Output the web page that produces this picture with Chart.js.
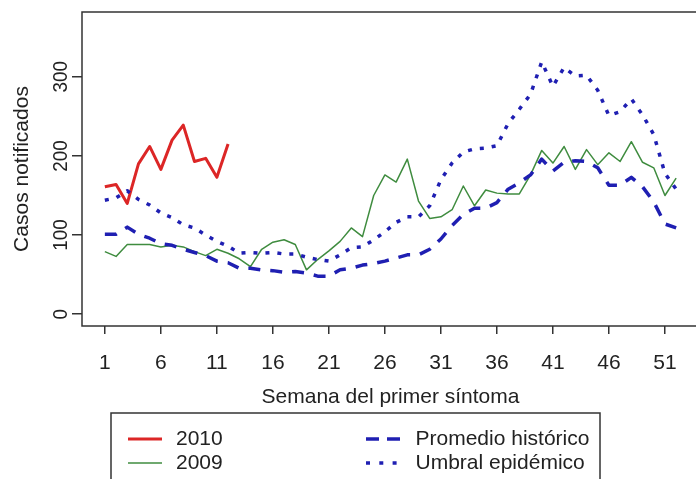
<!DOCTYPE html>
<html>
<head>
<meta charset="utf-8">
<script src="https://cdn.jsdelivr.net/npm/chart.js@4/dist/chart.umd.min.js"></script>
<style>
html,body{margin:0;padding:0;background:#fff;overflow:hidden;}
#wrap{width:710px;height:479px;}
</style>
</head>
<body>
<div id="wrap"><canvas id="c" width="710" height="479"></canvas></div>
<script>
// ---- data ----
const weeks = [1,2,3,4,5,6,7,8,9,10,11,12,13,14,15,16,17,18,19,20,21,22,23,24,25,26,
               27,28,29,30,31,32,33,34,35,36,37,38,39,40,41,42,43,44,45,46,47,48,49,50,51,52];
const weeks2010 = [1,2,3,4,5,6,7,8,9,10,11,12];
const cases2010 = [161,164,140,190,212,183,220,239,193,197,173,215];
const cases2009 = [79,73,88,88,88,85,87,85,79,74,82,77,70,60,82,91,94,88,56,69,
                   80,92,109,98,150,176,167,196,143,121,123,132,162,137,157,153,152,152,176,207,
                   191,212,183,208,189,204,193,218,192,185,150,172];
const promedioHistorico = [101,101,110,101,96,89,87,82,78,74,67,65,58,58,56,55,53,54,52,48,
                           48,56,58,62,64,67,71,75,75,82,95,112,126,134,134,141,158,166,176,196,
                           181,192,194,193,185,163,163,173,161,142,114,109];
const umbralEpidemico = [144,147,156,145,138,128,122,113,109,100,92,86,77,78,77,78,76,76,72,69,
                         67,75,84,85,94,104,116,123,123,137,170,191,205,209,210,213,241,259,278,319,
                         288,312,301,302,283,251,256,272,252,227,178,158];
const xTickValues = [1,6,11,16,21,26,31,36,41,46,51];
const yTickValues = [0,100,200,300];
const seriesLabels = ['2010','2009','Promedio histórico','Umbral epidémico'];
const xTitle = 'Semana del primer síntoma';
const yTitle = 'Casos notificados';

// ---- style ----
const FONT_FAMILY = "'Liberation Sans', Arial, Helvetica, sans-serif";
const TXT = '#222';
const AX = '#333';
const RED = '#dc2626';
const GREEN = '#3f8c3f';
const BLUE = '#1f1fb2';

function pts(xs, ys){ return ys.map((v,i)=>({x:xs[i], y:v})); }

const framePlugin = {
  id: 'frameAndLegend',
  afterDraw(chart){
    const {ctx, chartArea:a, scales:{y}} = chart;
    ctx.save();
    // plot box
    ctx.strokeStyle = AX; ctx.lineWidth = 1.5; ctx.setLineDash([]);
    ctx.strokeRect(a.left, a.top, a.right - a.left, a.bottom - a.top);
    // y tick labels, rotated like R (las=0)
    ctx.font = '21px ' + FONT_FAMILY;
    ctx.fillStyle = TXT; ctx.textAlign = 'center'; ctx.textBaseline = 'middle';
    y.ticks.forEach(t => {
      const py = y.getPixelForValue(t.value);
      ctx.save(); ctx.translate(61, py); ctx.rotate(-Math.PI/2); ctx.scale(0.9, 1);
      ctx.fillText(t.label, 0, 0); ctx.restore();
    });
    // legend box
    ctx.lineWidth = 1.5; ctx.strokeStyle = AX;
    ctx.strokeRect(111, 413, 489, 120);
    const ds = chart.data.datasets;
    const items = [
      {d: ds.find(d=>d.label===seriesLabels[0]), x1:128, x2:162, tx:176, y:439, dash:[]},
      {d: ds.find(d=>d.label===seriesLabels[1]), x1:128, x2:162, tx:176, y:463, dash:[]},
      {d: ds.find(d=>d.label===seriesLabels[2]), x1:366, x2:401, tx:415.5, y:439, dash:[13,8]},
      {d: ds.find(d=>d.label===seriesLabels[3]), x1:366, x2:401, tx:415.5, y:463, dash:[4,9.3]}
    ];
    ctx.font = '21px ' + FONT_FAMILY;
    items.forEach(it => {
      ctx.beginPath();
      ctx.setLineDash(it.dash);
      ctx.strokeStyle = it.d.borderColor; ctx.lineWidth = it.d.borderWidth;
      ctx.lineCap = 'butt';
      ctx.moveTo(it.x1, it.y); ctx.lineTo(it.x2, it.y); ctx.stroke();
      ctx.setLineDash([]);
      ctx.fillStyle = TXT; ctx.textAlign = 'left'; ctx.textBaseline = 'middle';
      ctx.fillText(it.d.label, it.tx, it.y);
    });
    ctx.restore();
  }
};

new Chart(document.getElementById('c'), {
  type: 'line',
  data: {
    datasets: [
      {label: seriesLabels[0], data: pts(weeks2010, cases2010), borderColor: RED, borderWidth: 3, order: 3},
      {label: seriesLabels[1], data: pts(weeks, cases2009), borderColor: GREEN, borderWidth: 1.5, order: 4},
      {label: seriesLabels[2], data: pts(weeks, promedioHistorico), borderColor: BLUE, borderWidth: 3.5, borderDash: [12,10], order: 2},
      {label: seriesLabels[3], data: pts(weeks, umbralEpidemico), borderColor: BLUE, borderWidth: 3.5, borderDash: [4,8], order: 1}
    ]
  },
  options: {
    responsive: false,
    animation: false,
    devicePixelRatio: 1,
    layout: {padding: {left: 0, top: 12, right: 11, bottom: 0}},
    elements: {
      point: {radius: 0, hoverRadius: 0},
      line: {tension: 0, fill: false, borderJoinStyle: 'round', borderCapStyle: 'butt'}
    },
    plugins: {legend: {display: false}, tooltip: {enabled: false}},
    scales: {
      x: {
        type: 'linear', position: 'bottom', min: -1.04, max: 54.04,
        afterBuildTicks: (s) => { s.ticks = xTickValues.map(v => ({value: v})); },
        afterFit: (s) => { s.height = 153; },
        grid: {display: true, drawOnChartArea: false, drawTicks: true, tickLength: 8, color: AX, lineWidth: 1.5},
        border: {display: false},
        ticks: {autoSkip: false, maxRotation: 0, minRotation: 0, padding: 16.4, color: TXT,
                font: {family: FONT_FAMILY, size: 21, lineHeight: 1.2}},
        title: {display: true, text: xTitle, color: TXT, padding: {top: 0, bottom: 69.4},
                font: {family: FONT_FAMILY, size: 21, lineHeight: 1.2}}
      },
      y: {
        type: 'linear', position: 'left', min: -15, max: 382,
        afterBuildTicks: (s) => { s.ticks = yTickValues.map(v => ({value: v})); },
        afterFit: (s) => { s.width = 82; },
        grid: {display: true, drawOnChartArea: false, drawTicks: true, tickLength: 10, color: AX, lineWidth: 1.5},
        border: {display: false},
        ticks: {display: false, font: {family: FONT_FAMILY, size: 21}},
        title: {display: true, text: yTitle, color: TXT, padding: {top: 9.4, bottom: 0},
                font: {family: FONT_FAMILY, size: 21, lineHeight: 1.2}}
      }
    }
  },
  plugins: [framePlugin]
});
</script>
</body>
</html>
